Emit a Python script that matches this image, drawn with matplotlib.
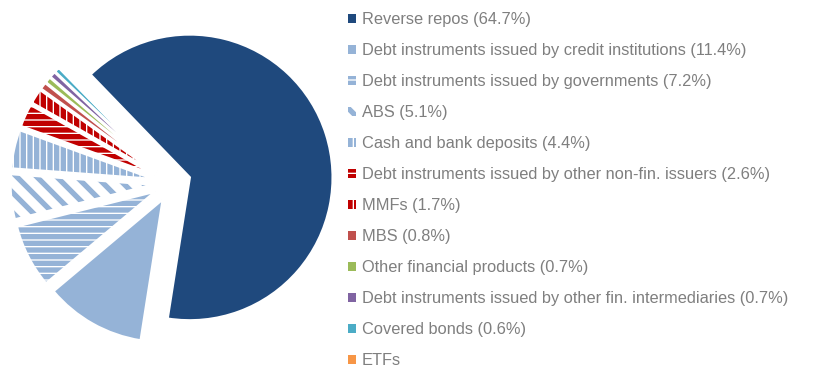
import matplotlib
matplotlib.use("Agg")
import matplotlib.pyplot as plt

# data
labels = ["Reverse repos (64.7%)",
          "Debt instruments issued by credit institutions (11.4%)",
          "Debt instruments issued by governments (7.2%)",
          "ABS (5.1%)",
          "Cash and bank deposits (4.4%)",
          "Debt instruments issued by other non-fin. issuers (2.6%)",
          "MMFs (1.7%)",
          "MBS (0.8%)",
          "Other financial products (0.7%)",
          "Debt instruments issued by other fin. intermediaries (0.7%)",
          "Covered bonds (0.6%)",
          "ETFs"]
shares = [64.7, 11.4, 7.2, 5.1, 4.4, 2.6, 1.7, 0.8, 0.7, 0.7, 0.6, 0.1]
colors = ["#1F497D", "#95B3D7", "#95B3D7", "#95B3D7", "#95B3D7", "#C00000",
          "#C00000", "#C0504D", "#9BBB59", "#8064A2", "#4BACC6", "#F79646"]
hatches = [None, None, "---", "\\\\", "|||", "---", "|||",
           None, None, None, None, None]

DPI = 120
W, H = 820, 371
plt.rcParams["hatch.linewidth"] = 3.2
plt.rcParams["font.family"] = ["Liberation Sans", "DejaVu Sans"]

fig = plt.figure(figsize=(W / DPI, H / DPI), dpi=DPI)

# pie centre and radius in pixels
cx, cy, r = 172, 188, 143
ax = fig.add_axes([0, 0, 344 / W, 1])

explode = [0.13] * len(shares)
wedges, _ = ax.pie(shares, explode=explode, startangle=134, counterclock=False,
                   radius=1, wedgeprops=dict(linewidth=0))
for w, c, h in zip(wedges, colors, hatches):
    if h:
        w.set_facecolor("white")
        w.set_edgecolor(c)
        w.set_hatch(h)
        w.set_linewidth(0)
    else:
        w.set_facecolor(c)
        w.set_edgecolor(c)
        w.set_linewidth(0)

# white borders between the slices
ax.pie(shares, explode=explode, startangle=134, counterclock=False, radius=1,
       wedgeprops=dict(fill=False, edgecolor="white", linewidth=1.5))

ax.set_xlim(-cx / r, (344 - cx) / r)
ax.set_ylim(-cy / r, (H - cy) / r)
ax.set_aspect("auto")
ax.axis("off")

leg = fig.legend(wedges, labels, loc="upper left",
                 bbox_to_anchor=(348 / W, 1 - 12 / H), frameon=False,
                 fontsize=9.8, handlelength=0.5, handleheight=0.5,
                 handletextpad=0.36, labelspacing=0.98, borderpad=0,
                 borderaxespad=0)
for t in leg.get_texts():
    t.set_color("#7F7F7F")

fig.savefig("out.png", dpi=DPI)
